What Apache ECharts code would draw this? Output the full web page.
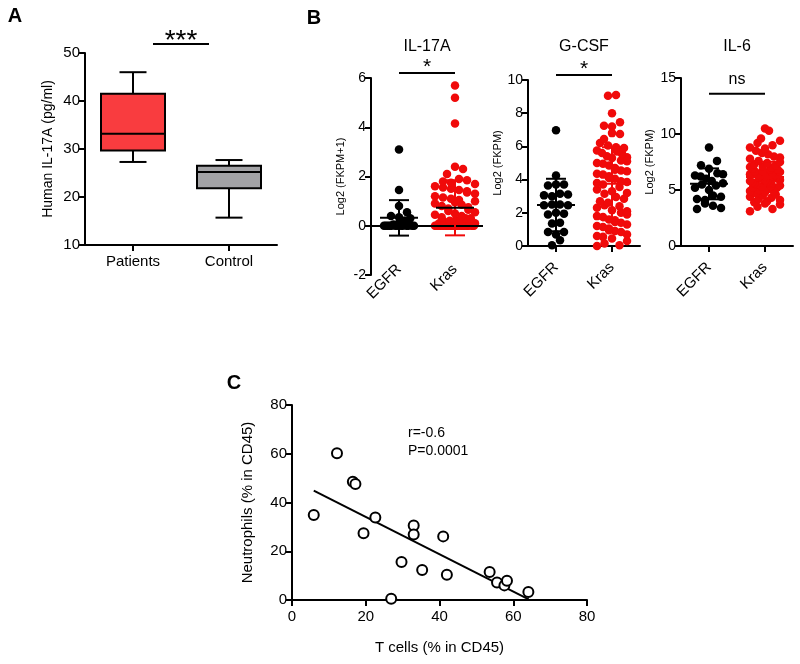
<!DOCTYPE html>
<html><head><meta charset="utf-8">
<script src="https://cdn.jsdelivr.net/npm/echarts@6/dist/echarts.min.js"></script>
<style>html,body{margin:0;padding:0;background:#fff}#c{width:800px;height:664px}</style>
</head><body><div id="c"></div>
<script>
const FONT = 'Liberation Sans, Arial, Helvetica, sans-serif';

// ---------- Panel A: box plot ----------
const boxCategories = ['Patients', 'Control'];
const boxMin    = [27.3, 15.7];
const boxQ1     = [29.7, 21.8];
const boxMedian = [33.2, 25.2];
const boxQ3     = [41.5, 26.5];
const boxMax    = [46.0, 27.7];

// ---------- Panel B: dot plots ----------
const groups = ['EGFR', 'Kras'];
const il17EGFR = [3.1, 1.45, 0.8, 0.55, 0.4, 0.35, 0.3, 0.2, 0.1, 0.05, 0, 0, 0, 0, 0, 0, 0, 0, 0, 0, 0, 0, 0];
const il17Kras = [5.7, 5.2, 4.15, 2.4, 2.3, 2.1, 1.9, 1.85, 1.8, 1.75, 1.7, 1.6, 1.55, 1.5, 1.45, 1.4, 1.35, 1.3,
  1.2, 1.15, 1.1, 1.05, 1.0, 0.95, 0.9, 0.85, 0.8, 0.75, 0.7, 0.65, 0.6, 0.55, 0.5, 0.45, 0.4, 0.35, 0.3, 0.3,
  0.25, 0.2, 0.2, 0.15, 0.1, 0.1, 0.05,
  0, 0, 0, 0, 0, 0, 0, 0, 0, 0, 0, 0, 0, 0, 0, 0, 0, 0, 0, 0, 0, 0, 0, 0, 0, 0, 0, 0, 0, 0];
const il17Mean = [0.32, 0.73];
const il17Sd   = [0.72, 1.12];

const gcsfEGFR = [6.98, 4.25, 3.7, 3.7, 3.65, 3.15, 3.05, 3.0, 3.1, 2.5, 2.45, 2.5, 2.45, 1.95, 2.0, 1.9,
  1.35, 1.4, 0.85, 0.85, 0.7, 0.35, 0.04];
const gcsfKras = [9.1, 9.05, 8.0, 7.45, 7.25, 7.2, 6.8, 6.75, 6.45, 6.2, 6.05, 5.95, 5.9, 5.75, 5.7, 5.6, 5.55,
  5.4, 5.35, 5.3, 5.15, 5.1, 5.0, 4.95, 4.85, 4.7, 4.6, 4.55, 4.5, 4.35, 4.3, 4.2, 4.1, 4.05, 3.9, 3.85, 3.8,
  3.7, 3.55, 3.4, 3.3, 3.2, 3.15, 2.95, 2.85, 2.7, 2.6, 2.45, 2.4, 2.3, 2.15, 2.1, 2.0, 1.9, 1.8, 1.75, 1.6,
  1.55, 1.45, 1.4, 1.3, 1.2, 1.15, 1.05, 0.95, 0.9, 0.85, 0.7, 0.6, 0.55, 0.45, 0.3, 0.15, 0.05, 0.0];
const gcsfMean = [2.47, 3.75];
const gcsfSd   = [1.58, 2.2];

const il6EGFR = [8.8, 7.6, 7.2, 6.9, 6.5, 6.4, 6.3, 6.2, 6.0, 5.8, 5.6, 5.5, 5.4, 5.2, 5.0, 4.5, 4.4, 4.2,
  4.1, 3.8, 3.6, 3.4, 3.3];
const il6Kras = [10.5, 10.3, 9.6, 9.4, 9.2, 9.0, 8.8, 8.7, 8.5, 8.3, 8.2, 8.0, 7.9, 7.8, 7.6, 7.5, 7.4, 7.3,
  7.2, 7.1, 7.05, 7.0, 6.9, 6.85, 6.8, 6.7, 6.65, 6.6, 6.55, 6.5, 6.45, 6.4, 6.35, 6.3, 6.25, 6.2, 6.15, 6.1,
  6.05, 6.0, 5.95, 5.9, 5.85, 5.8, 5.75, 5.7, 5.65, 5.6, 5.55, 5.5, 5.4, 5.35, 5.3, 5.25, 5.2, 5.1, 5.0, 4.9,
  4.85, 4.8, 4.7, 4.6, 4.5, 4.4, 4.3, 4.2, 4.1, 4.0, 3.9, 3.8, 3.7, 3.5, 3.3, 3.1];
const il6Mean = [5.55, 6.17];
const il6Sd   = [1.38, 1.35];

// ---------- Panel C: scatter ----------
const tCells      = [5.9, 12.2, 16.5, 17.2, 19.4, 22.6, 26.9, 29.7, 33.0, 33.0, 35.3, 41.0, 42.0, 53.6, 55.6, 57.6, 58.3, 64.1];
const neutrophils = [34.9, 60.2, 48.5, 47.6, 27.4, 33.8, 0.5, 15.6, 30.6, 26.9, 12.3, 26.1, 10.4, 11.5, 7.2, 6.0, 7.9, 3.3];
const fitX = [5.9, 64.2];
const fitY = [44.9, 0.3];

// ---------- layout helpers ----------
const BLACK = '#000';
const RED = '#f00a0a';
const AX = { color: BLACK, width: 2 };

function valAxis(gridIndex, min, max, interval, fontSize, extra) {
  return Object.assign({
    type: 'value', gridIndex, min, max, interval,
    axisLine: { show: true, onZero: false, lineStyle: AX },
    axisTick: { show: true, length: 6, lineStyle: AX },
    axisLabel: { color: BLACK, fontSize, fontFamily: FONT, margin: 5 },
    splitLine: { show: false }
  }, extra || {});
}
function catAxis(gridIndex, data, o) {
  return {
    type: 'category', gridIndex, data, boundaryGap: true,
    axisLine: { show: o.line, onZero: false, lineStyle: AX },
    axisTick: { show: o.tick, alignWithLabel: true, length: 6, lineStyle: AX },
    axisLabel: { color: BLACK, fontSize: o.fs, fontFamily: FONT, rotate: o.rot || 0, margin: o.margin, interval: 0 },
    splitLine: { show: false }
  };
}
function yName(name, gap, size) {
  return { name, nameLocation: 'middle', nameGap: gap,
    nameTextStyle: { color: BLACK, fontSize: size, fontFamily: FONT } };
}
function gcd(a, b) { return b ? gcd(b, a % b) : a; }

// GraphPad-like row layout: points binned into pixel rows, spread horizontally
function swarm(values, cat, min, max, hpx, d, maxW) {
  const items = values.map((v, i) => ({ v, i, py: (v - min) / (max - min) * hpx }));
  items.sort((a, b) => a.py - b.py);
  const rows = [];
  let cur = null;
  items.forEach(it => {
    if (!cur || it.py - cur.start >= d) { cur = { start: it.py, list: [] }; rows.push(cur); }
    cur.list.push(it);
  });
  const out = [];
  rows.forEach((r, ri) => {
    const n = r.list.length;
    const sp = n > 1 ? Math.min(d, maxW / (n - 1)) : 0;
    let p = [3, 5, 7, 2, 11].find(q => gcd(q, n) === 1 && q < n) || 1;
    r.list.forEach((it, k) => {
      const slot = n > 2 ? (k * p + ri) % n : k;
      out.push({ value: [cat, it.v], symbolOffset: [(slot - (n - 1) / 2) * sp, 0] });
    });
  });
  return out;
}

function errRender(meanColors, barColors) {
  return function (params, api) {
    const i = api.value(0), m = api.value(1), s = api.value(2);
    const c = api.coord([i, m]), t = api.coord([i, m + s]), b = api.coord([i, m - s]);
    const x = c[0];
    const st = { stroke: barColors[i], lineWidth: 2 };
    return { type: 'group', children: [
      { type: 'line', shape: { x1: x, y1: t[1], x2: x, y2: b[1] }, style: st },
      { type: 'line', shape: { x1: x - 10, y1: t[1], x2: x + 10, y2: t[1] }, style: st },
      { type: 'line', shape: { x1: x - 10, y1: b[1], x2: x + 10, y2: b[1] }, style: st },
      { type: 'line', shape: { x1: x - 19, y1: c[1], x2: x + 19, y2: c[1] }, style: { stroke: meanColors[i], lineWidth: 2 } }
    ]};
  };
}

const grids = [
  { left: 85, top: 53, width: 192, height: 192 },   // A
  { left: 371, top: 78, width: 112, height: 197 },  // IL-17A
  { left: 528, top: 80, width: 112, height: 166 },  // G-CSF
  { left: 681, top: 78, width: 112, height: 168 },  // IL-6
  { left: 292, top: 405, width: 295, height: 195 }  // C
].map(g => Object.assign({ outerBoundsMode: 'none', containLabel: false }, g));

const dotSize = 8.5, rowD = 8;
const dotDefs = [
  { g: 1, e: il17EGFR, k: il17Kras, min: -2, max: 6, mean: il17Mean, sd: il17Sd, meanCol: [BLACK, BLACK] },
  { g: 2, e: gcsfEGFR, k: gcsfKras, min: 0, max: 10, mean: gcsfMean, sd: gcsfSd, meanCol: [BLACK, RED] },
  { g: 3, e: il6EGFR, k: il6Kras, min: 0, max: 15, mean: il6Mean, sd: il6Sd, meanCol: [BLACK, RED] }
];

const series = [];
// Panel A boxes
series.push({
  type: 'custom', xAxisIndex: 0, yAxisIndex: 0, clip: false,
  data: boxCategories.map((c, i) => [i, boxMin[i], boxQ1[i], boxMedian[i], boxQ3[i], boxMax[i]]),
  encode: { x: 0, y: [1, 5] },
  renderItem: function (params, api) {
    const i = api.value(0);
    const pMin = api.coord([i, api.value(1)]), q1 = api.coord([i, api.value(2)]),
      md = api.coord([i, api.value(3)]), q3 = api.coord([i, api.value(4)]), pMax = api.coord([i, api.value(5)]);
    const x = pMin[0], hw = 32, cw = 13.5;
    const st = { stroke: BLACK, lineWidth: 2 };
    return { type: 'group', children: [
      { type: 'line', shape: { x1: x, y1: q3[1], x2: x, y2: pMax[1] }, style: st },
      { type: 'line', shape: { x1: x - cw, y1: pMax[1], x2: x + cw, y2: pMax[1] }, style: st },
      { type: 'line', shape: { x1: x, y1: q1[1], x2: x, y2: pMin[1] }, style: st },
      { type: 'line', shape: { x1: x - cw, y1: pMin[1], x2: x + cw, y2: pMin[1] }, style: st },
      { type: 'rect', shape: { x: x - hw, y: q3[1], width: 2 * hw, height: q1[1] - q3[1] },
        style: { fill: i === 0 ? '#f93c3f' : '#a2a2a5', stroke: BLACK, lineWidth: 2 } },
      { type: 'line', shape: { x1: x - hw, y1: md[1], x2: x + hw, y2: md[1] }, style: st }
    ]};
  }
});

dotDefs.forEach((d, idx) => {
  const h = grids[d.g].height;
  series.push({
    type: 'scatter', xAxisIndex: d.g, yAxisIndex: d.g, symbolSize: dotSize, clip: false,
    itemStyle: { color: BLACK, opacity: 1 }, data: swarm(d.e, 0, d.min, d.max, h, rowD, idx === 0 ? 30 : 28)
  });
  series.push({
    type: 'scatter', xAxisIndex: d.g, yAxisIndex: d.g, symbolSize: dotSize, clip: false,
    itemStyle: { color: RED, opacity: 1 }, data: swarm(d.k, 1, d.min, d.max, h, rowD, idx === 0 ? 40 : 30)
  });
  if (idx === 0) {
    series.push({
      type: 'scatter', xAxisIndex: d.g, yAxisIndex: d.g, data: [], z: 4,
      markLine: { silent: true, symbol: 'none', label: { show: false }, animation: false,
        lineStyle: { color: BLACK, width: 2, type: 'solid' }, data: [{ yAxis: 0 }] }
    });
  }
  series.push({
    type: 'custom', xAxisIndex: d.g, yAxisIndex: d.g, clip: false, z: 5,
    data: groups.map((g, i) => [i, d.mean[i], d.sd[i]]),
    encode: { x: 0, y: 1 },
    renderItem: errRender(d.meanCol, [BLACK, RED])
  });
});

// Panel C
series.push({
  type: 'scatter', xAxisIndex: 4, yAxisIndex: 4, symbolSize: 10, clip: false,
  itemStyle: { color: '#fff', borderColor: BLACK, borderWidth: 2, opacity: 1 },
  data: tCells.map((x, i) => [x, neutrophils[i]])
});
series.push({
  type: 'line', xAxisIndex: 4, yAxisIndex: 4, showSymbol: false, symbol: 'none',
  lineStyle: { color: BLACK, width: 2 }, data: fitX.map((x, i) => [x, fitY[i]]), z: 1
});

const option = {
  animation: false,
  backgroundColor: '#fff',
  grid: grids,
  xAxis: [
    catAxis(0, boxCategories, { line: true, tick: true, fs: 15, margin: 9 }),
    catAxis(1, groups, { line: false, tick: false, fs: 15, rot: 45, margin: -8 }),
    catAxis(2, groups, { line: true, tick: true, fs: 15, rot: 45, margin: 19 }),
    catAxis(3, groups, { line: true, tick: true, fs: 15, rot: 45, margin: 19 }),
    Object.assign(valAxis(4, 0, 80, 20, 15), yName('T cells (% in CD45)', 40, 15),
      { axisLabel: { color: BLACK, fontSize: 15, fontFamily: FONT, margin: 9 } })
  ],
  yAxis: [
    Object.assign(valAxis(0, 10, 50, 10, 15), yName('Human IL-17A (pg/ml)', 30, 14)),
    Object.assign(valAxis(1, -2, 6, 2, 14), yName('Log2 (FKPM+1)', 25, 11)),
    Object.assign(valAxis(2, 0, 10, 2, 14), yName('Log2 (FKPM)', 23.5, 11)),
    Object.assign(valAxis(3, 0, 15, 5, 14), yName('Log2 (FKPM)', 25.5, 11)),
    Object.assign(valAxis(4, 0, 80, 20, 15), yName('Neutrophils (% in CD45)', 36.5, 15))
  ],
  series
};

const chart = echarts.init(document.getElementById('c'));
chart.setOption(option);

// ---------- annotations ----------
function txt(text, x, y, size, opts) {
  opts = opts || {};
  return { type: 'text', x, y, silent: true, z: 10, style: {
    text, fontSize: size, fontFamily: FONT, fontWeight: opts.bold ? 'bold' : 'normal', fill: BLACK,
    align: opts.align || 'center', verticalAlign: 'middle',
    textAlign: opts.align || 'center', textVerticalAlign: 'middle' } };
}
function ln(x1, y1, x2, y2) {
  return { type: 'line', silent: true, z: 10, shape: { x1, y1, x2, y2 }, style: { stroke: BLACK, lineWidth: 2 } };
}
const px = (ai, pt) => chart.convertToPixel({ xAxisIndex: ai, yAxisIndex: ai }, pt);
const sigLevel = [51.9, 6.2, 10.3, 13.6];
const sigText = ['***', '*', '*', 'ns'];
const sigInset = [20, 0, 0, 0];
const sigSize = [28, 21, 21, 16];
const sigGap = [3, 6, 6, 14];
const elements = [];
[0, 1, 2, 3].forEach(ai => {
  const a = px(ai, [0, sigLevel[ai]]), b = px(ai, [1, sigLevel[ai]]);
  elements.push(ln(a[0] + sigInset[ai], a[1], b[0] - sigInset[ai], b[1]));
  elements.push(txt(sigText[ai], (a[0] + b[0]) / 2, a[1] - sigGap[ai], sigSize[ai]));
});
const titles = ['IL-17A', 'G-CSF', 'IL-6'];
[1, 2, 3].forEach((ai, k) => {
  const a = px(ai, [0, 0]), b = px(ai, [1, 0]);
  elements.push(txt(titles[k], (a[0] + b[0]) / 2, 47, 16));
});
elements.push(txt('A', 15, 16, 20, { bold: true }));
elements.push(txt('B', 314, 18, 20, { bold: true }));
elements.push(txt('C', 234, 383, 20, { bold: true }));
elements.push(txt('r=-0.6', 408, 433, 14, { align: 'left' }));
elements.push(txt('P=0.0001', 408, 451, 14, { align: 'left' }));
chart.setOption({ graphic: { elements } });
</script>
</body></html>
